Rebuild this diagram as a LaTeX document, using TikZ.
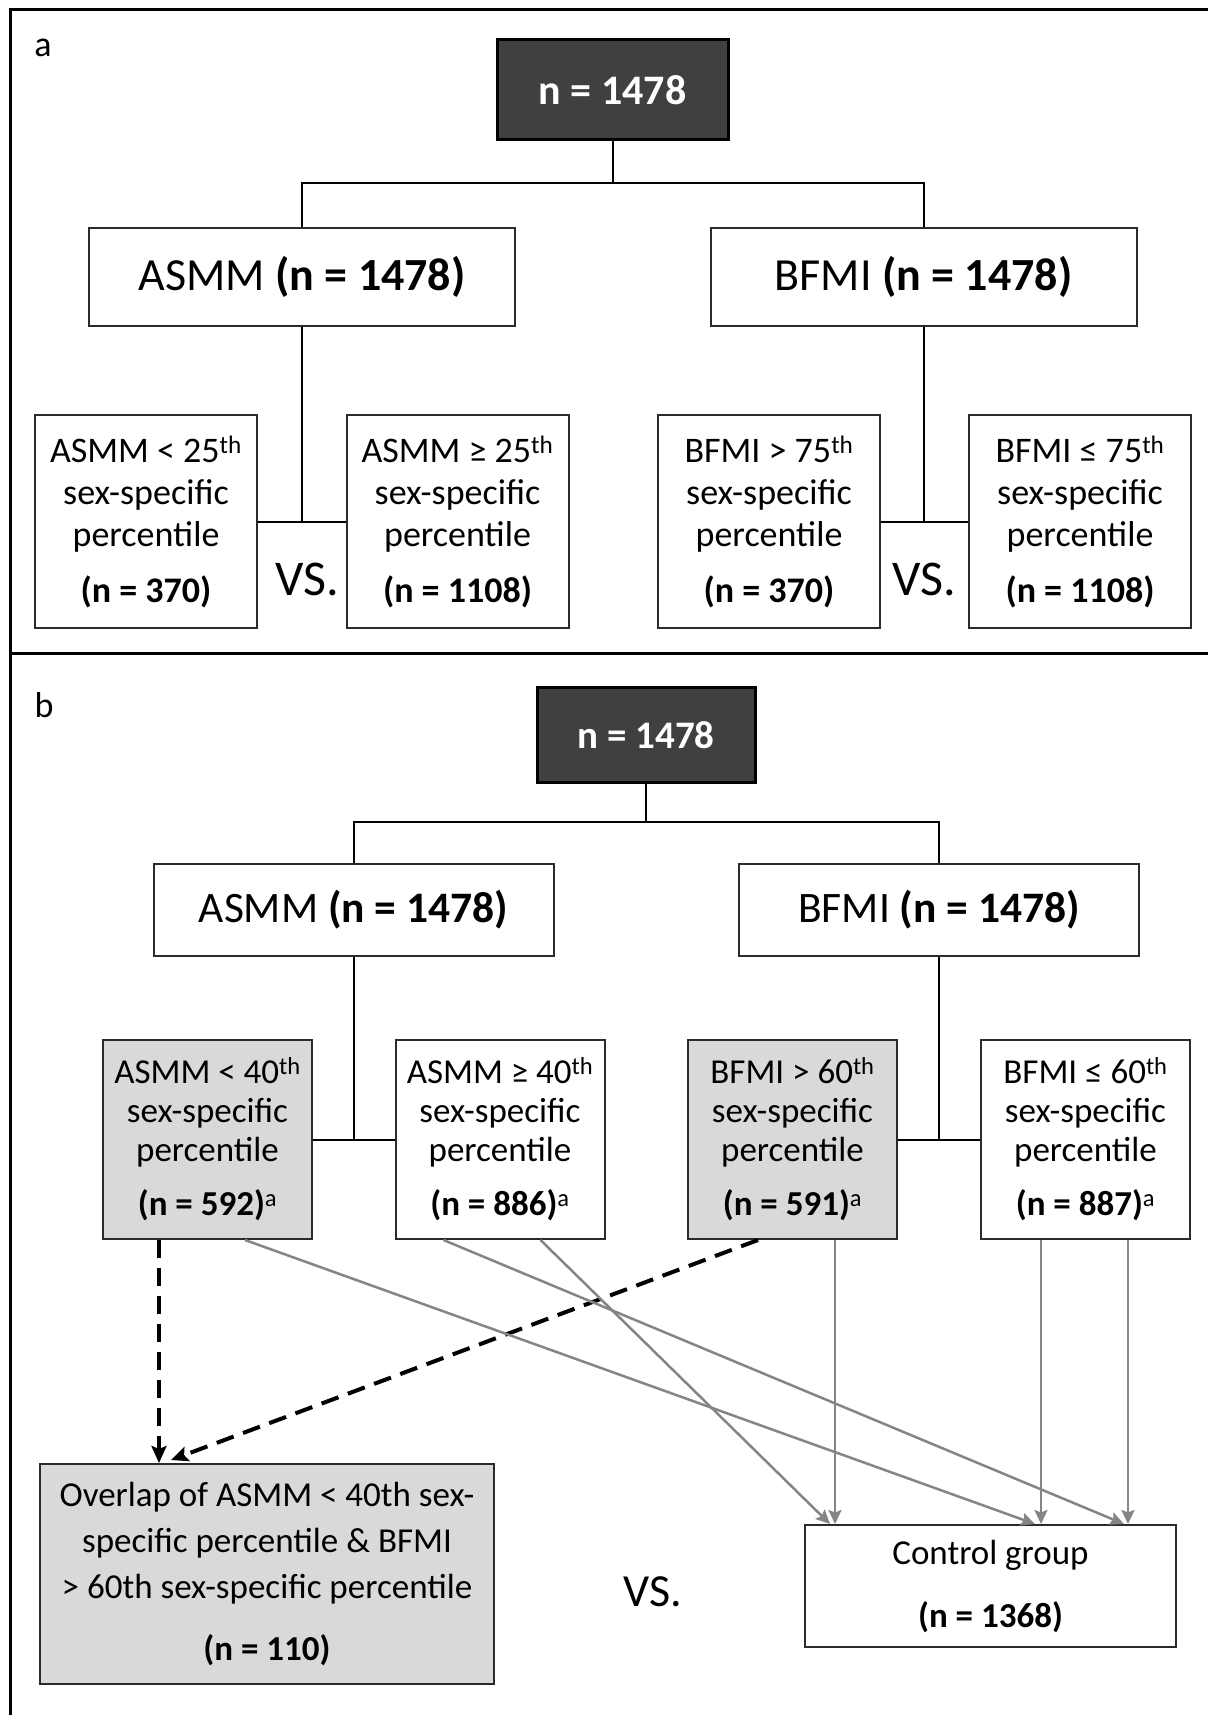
\documentclass[tikz,border=0pt]{standalone}
\usepackage{fontspec}
\setmainfont{Carlito}
\usetikzlibrary{arrows.meta,positioning,calc}
\definecolor{rootfill}{HTML}{404040}
\definecolor{cutfill}{HTML}{D9D9D9}
\definecolor{boxline}{HTML}{2B2B2B}
\definecolor{ctrlgray}{HTML}{858585}

\begin{document}
\begin{tikzpicture}[
  x=1pt,y=-1pt,
  frame/.style={line width=3pt},
  link/.style={line width=2pt},
  box/.style={draw=boxline,line width=2pt,inner sep=0pt,align=center,fill=white},
  rootA/.style={box,draw=black,line width=3pt,fill=rootfill,text=white,
                minimum width=231pt,minimum height=100pt,
                font=\fontsize{42}{50}\selectfont\bfseries},
  rootB/.style={rootA,minimum width=218pt,minimum height=95pt,
                font=\fontsize{39}{46}\selectfont\bfseries},
  midA/.style={box,minimum width=426pt,minimum height=98pt,
               font=\fontsize{46}{54}\selectfont},
  midB/.style={box,minimum width=400pt,minimum height=92pt,
               font=\fontsize{43.5}{52}\selectfont},
  cutA/.style={box,minimum width=222pt,minimum height=213pt,
               font=\fontsize{36}{42}\selectfont},
  cutB/.style={box,minimum width=209pt,minimum height=199pt,
               font=\fontsize{35}{39}\selectfont},
  shade/.style={fill=cutfill},
  vs/.style={inner sep=0pt},
  tag/.style={inner sep=0pt,font=\fontsize{36}{42}\selectfont},
  dasharrow/.style={-{Stealth[length=17pt,width=15pt,inset=3pt]},
                    line width=4pt,dash pattern=on 18pt off 10pt},
  ctrl/.style={-{Stealth[length=14pt,width=13pt,inset=2.5pt]},
               line width=2.5pt,draw=ctrlgray,fill=ctrlgray}
]
\useasboundingbox (0,0) rectangle (1208,1715);
% outer frame and panel divider
\draw[frame] (10,1715) -- (10,10) -- (1208,10);
\draw[frame] (10,653) -- (1208,653);

% Panel (a): 25th / 75th percentile split
\node[tag] (aTag) at (43,48) {a};
\node[rootA] (aRoot) at (612.5,90) {n = 1478};
\node[midA] (aAsmm) at (302,277) {ASMM \textbf{(n = 1478)}};
\node[midA] (aBfmi) at (923.5,277) {BFMI \textbf{(n = 1478)}};
\node[cutA] (aAsmmLo) at (146,521.5)
  {ASMM < 25\textsuperscript{th}\\sex-specific\\percentile\\[14pt]\textbf{(n = 370)}};
\node[cutA] (aAsmmHi) at (457.5,521.5)
  {ASMM ≥ 25\textsuperscript{th}\\sex-specific\\percentile\\[14pt]\textbf{(n = 1108)}};
\node[cutA] (aBfmiHi) at (769,521.5)
  {BFMI > 75\textsuperscript{th}\\sex-specific\\percentile\\[14pt]\textbf{(n = 370)}};
\node[cutA] (aBfmiLo) at (1080,521.5)
  {BFMI ≤ 75\textsuperscript{th}\\sex-specific\\percentile\\[14pt]\textbf{(n = 1108)}};
\node[vs,font=\fontsize{50}{56}\selectfont] (aVs1) at (307,579) {VS.};
\node[vs,font=\fontsize{50}{56}\selectfont] (aVs2) at (924,579) {VS.};
\coordinate (aSplit) at (612.5,183);
\draw[link] (aRoot.south) -- (aSplit);
\draw[link] (aSplit) -| (aAsmm.north);
\draw[link] (aSplit) -| (aBfmi.north);
\draw[link] (aAsmmLo.east) -- (aAsmmHi.west);
\draw[link] (aBfmiHi.east) -- (aBfmiLo.west);
\draw[link] (aAsmm.south) -- (aAsmm.south |- aAsmmLo.east);
\draw[link] (aBfmi.south) -- (aBfmi.south |- aBfmiHi.east);

% Panel (b): 40th / 60th percentile split and overlap
\node[tag] (bTag) at (44,705) {b};
\node[rootB] (bRoot) at (646,735) {n = 1478};
\node[midB] (bAsmm) at (353.5,910) {ASMM \textbf{(n = 1478)}};
\node[midB] (bBfmi) at (939,910) {BFMI \textbf{(n = 1478)}};
\node[cutB,shade] (bAsmmLo) at (207.5,1139.5)
  {ASMM < 40\textsuperscript{th}\\sex-specific\\percentile\\[15pt]\textbf{(n = 592)}\textsuperscript{a}};
\node[cutB] (bAsmmHi) at (500,1139.5)
  {ASMM ≥ 40\textsuperscript{th}\\sex-specific\\percentile\\[15pt]\textbf{(n = 886)}\textsuperscript{a}};
\node[cutB,shade] (bBfmiHi) at (792.5,1139.5)
  {BFMI > 60\textsuperscript{th}\\sex-specific\\percentile\\[15pt]\textbf{(n = 591)}\textsuperscript{a}};
\node[cutB] (bBfmiLo) at (1085.5,1139.5)
  {BFMI ≤ 60\textsuperscript{th}\\sex-specific\\percentile\\[15pt]\textbf{(n = 887)}\textsuperscript{a}};
\node[box,shade,minimum width=454pt,minimum height=220pt,
      font=\fontsize{35}{46}\selectfont] (bOverlap) at (267,1574)
  {Overlap of ASMM < 40th sex-\\specific percentile \& BFMI\\> 60th sex-specific percentile\\[16pt]\textbf{(n = 110)}};
\node[box,minimum width=371pt,minimum height=122pt,
      font=\fontsize{35}{42}\selectfont] (bControl) at (990.5,1586)
  {Control group\\[21pt]\textbf{(n = 1368)}};
\node[vs,font=\fontsize{46}{52}\selectfont] (bVs) at (653,1592) {VS.};
\coordinate (bSplit) at (646,822);
\draw[link] (bRoot.south) -- (bSplit);
\draw[link] (bSplit) -| (bAsmm.north);
\draw[link] (bSplit) -| (bBfmi.north);
\draw[link] (bAsmmLo.east) -- (bAsmmHi.west);
\draw[link] (bBfmiHi.east) -- (bBfmiLo.west);
\draw[link] (bAsmm.south) -- (bAsmm.south |- bAsmmLo.east);
\draw[link] (bBfmi.south) -- (bBfmi.south |- bBfmiHi.east);

% flows into the overlap group
\draw[dasharrow] ([xshift=57pt]bAsmmLo.south west) -- ([xshift=120pt]bOverlap.north west);
\draw[dasharrow] ([xshift=71pt]bBfmiHi.south west) -- ([xshift=132pt,yshift=3pt]bOverlap.north west);
% flows into the control group
\draw[ctrl] ([xshift=143pt]bAsmmLo.south west) -- ([xshift=231pt]bControl.north west);
\draw[ctrl] ([xshift=49pt]bAsmmHi.south west) -- ([xshift=320pt]bControl.north west);
\draw[ctrl] ([xshift=146pt]bAsmmHi.south west) -- ([xshift=26pt]bControl.north west);
\draw[ctrl] ([xshift=148pt]bBfmiHi.south west) -- ([xshift=31pt]bControl.north west);
\draw[ctrl] ([xshift=61pt]bBfmiLo.south west) -- ([xshift=237pt]bControl.north west);
\draw[ctrl] ([xshift=148pt]bBfmiLo.south west) -- ([xshift=324pt]bControl.north west);
\end{tikzpicture}
\end{document}
